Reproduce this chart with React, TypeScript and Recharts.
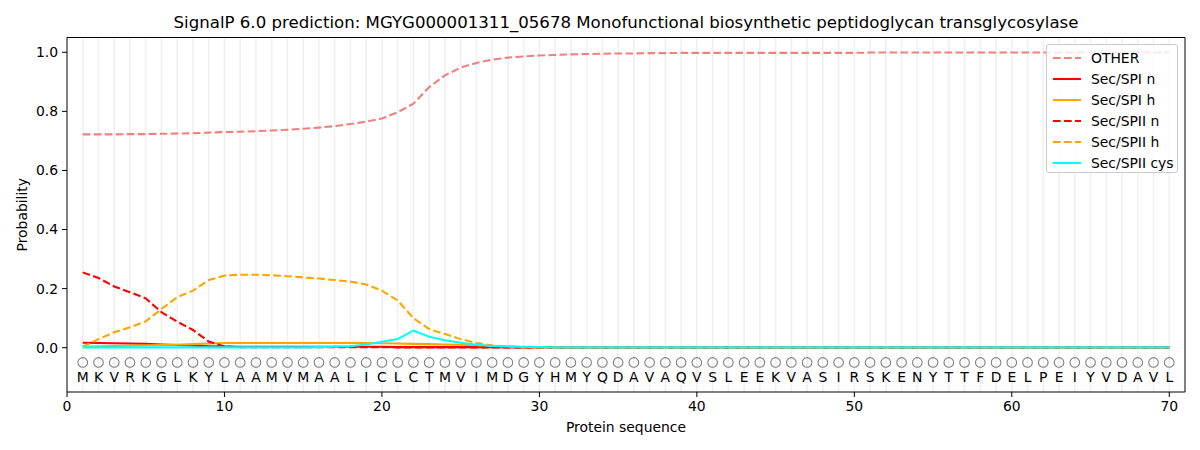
import React from 'react';
import { ComposedChart, Line, XAxis, YAxis, ReferenceLine, Legend } from 'recharts';

const FONT = '"DejaVu Sans", sans-serif';

const chartTitle = 'SignalP 6.0 prediction: MGYG000001311_05678 Monofunctional biosynthetic peptidoglycan transglycosylase';

const sequence = [
  'M','K','V','R','K','G','L','K','Y','L','A','A','M','V','M','A','A','L','I','C',
  'L','C','T','M','V','I','M','D','G','Y','H','M','Y','Q','D','A','V','A','Q','V',
  'S','L','E','E','K','V','A','S','I','R','S','K','E','N','Y','T','T','F','D','E',
  'L','P','E','I','Y','V','D','A','V','L',
];

const xTicks = [0, 10, 20, 30, 40, 50, 60, 70];
const yTicks = [0, 0.2, 0.4, 0.6, 0.8, 1.0];

const otherVals = [
  0.722, 0.722, 0.722, 0.723, 0.723, 0.724, 0.725, 0.726, 0.728, 0.730,
  0.731, 0.733, 0.735, 0.738, 0.741, 0.745, 0.750, 0.757, 0.765, 0.776,
  0.797, 0.826, 0.882, 0.922, 0.948, 0.964, 0.975, 0.982, 0.986, 0.989,
  0.991, 0.993, 0.994, 0.995, 0.996, 0.996, 0.997, 0.997, 0.998, 0.998,
  0.998, 0.998, 0.998, 0.998, 0.998, 0.998, 0.998, 0.998, 0.998, 0.998,
  0.999, 0.999, 0.999, 0.999, 0.999, 0.999, 0.999, 0.999, 0.999, 0.999,
  0.999, 0.999, 0.999, 0.999, 0.999, 0.999, 0.999, 0.999, 0.999, 0.999,
];

const spiNVals = [
  0.017, 0.016, 0.015, 0.014, 0.013, 0.011, 0.009, 0.007, 0.005, 0.004,
  0.003, 0.003, 0.003, 0.003, 0.003, 0.003, 0.003, 0.003, 0.003, 0.003,
  0.002, 0.002, 0.002, 0.002, 0.002, 0.002, 0.002, 0.001, 0.001, 0.001,
  0.001, 0.001, 0.001, 0.001, 0.001, 0.001, 0.001, 0.001, 0.001, 0.001,
  0.001, 0.001, 0.001, 0.001, 0.001, 0.001, 0.001, 0.001, 0.001, 0.001,
  0.001, 0.001, 0.001, 0.001, 0.001, 0.001, 0.001, 0.001, 0.001, 0.001,
  0.001, 0.001, 0.001, 0.001, 0.001, 0.001, 0.001, 0.001, 0.001, 0.001,
];

const spiHVals = [
  0.003, 0.005, 0.006, 0.007, 0.008, 0.009, 0.010, 0.012, 0.014, 0.016,
  0.016, 0.016, 0.016, 0.016, 0.016, 0.016, 0.016, 0.016, 0.016, 0.015,
  0.014, 0.013, 0.012, 0.011, 0.010, 0.008, 0.006, 0.004, 0.002, 0.001,
  0.001, 0.001, 0.001, 0.001, 0.001, 0.001, 0.001, 0.001, 0.001, 0.001,
  0.001, 0.001, 0.001, 0.001, 0.001, 0.001, 0.001, 0.001, 0.001, 0.001,
  0.001, 0.001, 0.001, 0.001, 0.001, 0.001, 0.001, 0.001, 0.001, 0.001,
  0.001, 0.001, 0.001, 0.001, 0.001, 0.001, 0.001, 0.001, 0.001, 0.001,
];

const spiiNVals = [
  0.255, 0.236, 0.207, 0.188, 0.167, 0.120, 0.088, 0.060, 0.021, 0.004,
  0.002, 0.002, 0.002, 0.002, 0.002, 0.002, 0.002, 0.002, 0.002, 0.002,
  0.001, 0.001, 0.001, 0.001, 0.001, 0.001, 0.001, 0.001, 0.001, 0.001,
  0.001, 0.001, 0.001, 0.001, 0.001, 0.001, 0.001, 0.001, 0.001, 0.001,
  0.001, 0.001, 0.001, 0.001, 0.001, 0.001, 0.001, 0.001, 0.001, 0.001,
  0.001, 0.001, 0.001, 0.001, 0.001, 0.001, 0.001, 0.001, 0.001, 0.001,
  0.001, 0.001, 0.001, 0.001, 0.001, 0.001, 0.001, 0.001, 0.001, 0.001,
];

const spiiHVals = [
  0.003, 0.029, 0.052, 0.069, 0.089, 0.131, 0.171, 0.193, 0.229, 0.244,
  0.247, 0.247, 0.245, 0.242, 0.238, 0.234, 0.229, 0.224, 0.214, 0.193,
  0.160, 0.100, 0.063, 0.046, 0.029, 0.016, 0.008, 0.004, 0.002, 0.002,
  0.001, 0.001, 0.001, 0.001, 0.001, 0.001, 0.001, 0.001, 0.001, 0.001,
  0.001, 0.001, 0.001, 0.001, 0.001, 0.001, 0.001, 0.001, 0.001, 0.001,
  0.001, 0.001, 0.001, 0.001, 0.001, 0.001, 0.001, 0.001, 0.001, 0.001,
  0.001, 0.001, 0.001, 0.001, 0.001, 0.001, 0.001, 0.001, 0.001, 0.001,
];

const cysVals = [
  0.001, 0.001, 0.001, 0.001, 0.001, 0.001, 0.001, 0.001, 0.001, 0.001,
  0.001, 0.001, 0.001, 0.001, 0.001, 0.002, 0.003, 0.005, 0.011, 0.020,
  0.029, 0.058, 0.037, 0.025, 0.017, 0.010, 0.006, 0.004, 0.003, 0.002,
  0.001, 0.001, 0.001, 0.001, 0.001, 0.001, 0.001, 0.001, 0.001, 0.001,
  0.001, 0.001, 0.001, 0.001, 0.001, 0.001, 0.001, 0.001, 0.001, 0.001,
  0.001, 0.001, 0.001, 0.001, 0.001, 0.001, 0.001, 0.001, 0.001, 0.001,
  0.001, 0.001, 0.001, 0.001, 0.001, 0.001, 0.001, 0.001, 0.001, 0.001,
];

const CIRCLE_Y = -0.05;
const LETTER_Y = -0.1;

const DASH = '7.7 3.3';
const LW = 2.08;

const seriesDefs = [
  { key: 'other', name: 'OTHER', color: '#f08080', dash: true },
  { key: 'spiN', name: 'Sec/SPI n', color: '#ff0000', dash: false },
  { key: 'spiH', name: 'Sec/SPI h', color: '#ffa500', dash: false },
  { key: 'spiiN', name: 'Sec/SPII n', color: '#ff0000', dash: true },
  { key: 'spiiH', name: 'Sec/SPII h', color: '#ffa500', dash: true },
  { key: 'cys', name: 'Sec/SPII cys', color: '#00ffff', dash: false },
];

const rows = sequence.map((letter, i) => ({
  pos: i + 1,
  letter,
  other: otherVals[i],
  spiN: spiNVals[i],
  spiH: spiHVals[i],
  spiiN: spiiNVals[i],
  spiiH: spiiHVals[i],
  cys: cysVals[i],
  circleY: CIRCLE_Y,
  letterY: LETTER_Y,
}));

const positions = rows.map((r) => r.pos);

const renderCircle = (props: any) => {
  const { cx, cy, index } = props;
  return <circle key={`c${index}`} cx={cx} cy={cy} r={4.8} fill="none" stroke="#808080" strokeWidth={1.1} />;
};

const renderLetter = (props: any) => {
  const { cx, cy, index, payload } = props;
  return (
    <text key={`l${index}`} x={cx} y={cy} textAnchor="middle" dominantBaseline="central"
      fontSize={13.9} fontFamily={FONT} fill="#000">
      {payload.letter}
    </text>
  );
};

const YLabel = (props: any) => {
  const vb = props.viewBox || { x: 0, y: 37.5, width: 67, height: 354.5 };
  const cy = vb.y + vb.height / 2;
  return (
    <text x={22} y={cy} transform={`rotate(-90, 22, ${cy})`} textAnchor="middle" dominantBaseline="central"
      fontSize={13.9} fontFamily={FONT} fill="#000">
      Probability
    </text>
  );
};

const XLabel = (props: any) => {
  const vb = props.viewBox || { x: 67, y: 392, width: 1118, height: 58 };
  const cx = vb.x + vb.width / 2;
  return (
    <text x={cx} y={427} textAnchor="middle" dominantBaseline="central"
      fontSize={13.9} fontFamily={FONT} fill="#000">
      Protein sequence
    </text>
  );
};

const LegendBox = () => (
  <div style={{
    position: 'relative', width: 132, height: 129, boxSizing: 'border-box',
    border: '1px solid #cccccc', borderRadius: 3, background: 'rgba(255,255,255,0.8)',
    fontFamily: FONT, fontSize: 13.9, color: '#000',
  }}>
    {seriesDefs.map((s, k) => (
      <div key={s.key} style={{ position: 'absolute', left: 0, top: 12.7 + 21 * k - 10, height: 20, width: 132 }}>
        <svg width={40} height={20} style={{ position: 'absolute', left: 0, top: 0 }}>
          <line x1={6} y1={10} x2={34} y2={10} stroke={s.color} strokeWidth={LW}
            strokeDasharray={s.dash ? DASH : undefined} />
        </svg>
        <span style={{ position: 'absolute', left: 44, top: 0, lineHeight: '20px', whiteSpace: 'nowrap' }}>{s.name}</span>
      </div>
    ))}
  </div>
);

export default function App() {
  return (
    <div style={{ position: 'absolute', left: 0, top: 0, width: 1200, height: 450, background: '#fff' }}>
      <div style={{
        position: 'absolute', left: 67, top: 13, width: 1118, textAlign: 'center',
        fontFamily: FONT, fontSize: 16.6, lineHeight: '20px', color: '#000', whiteSpace: 'nowrap',
      }}>
        {chartTitle}
      </div>
      <ComposedChart width={1200} height={450} data={rows}
        margin={{ top: 37.5, right: 15, bottom: 0, left: 0 }}>
        <XAxis type="number" dataKey="pos" domain={[0, 71]} ticks={xTicks} interval={0}
          allowDataOverflow height={58} tickSize={5} tickMargin={4}
          stroke="#000" tickLine={{ stroke: '#000' }}
          tick={{ fill: '#000', fontSize: 13.9, fontFamily: FONT }}
          label={<XLabel />} />
        <YAxis type="number" domain={[-0.15, 1.05]} ticks={yTicks} interval={0}
          allowDataOverflow width={67} tickSize={5} tickMargin={4}
          tickFormatter={(v: number) => v.toFixed(1)}
          stroke="#000" tickLine={{ stroke: '#000' }}
          tick={{ fill: '#000', fontSize: 13.9, fontFamily: FONT }}
          label={<YLabel />} />
        {positions.map((p) => (
          <ReferenceLine key={`g${p}`} x={p} stroke="#f0f0f0" strokeWidth={1.6} />
        ))}
        <ReferenceLine y={1.05} stroke="#000" strokeWidth={1} />
        <ReferenceLine x={71} stroke="#000" strokeWidth={1} />
        {seriesDefs.map((s) => (
          <Line key={s.key} type="linear" dataKey={s.key} name={s.name} stroke={s.color}
            strokeWidth={LW} strokeDasharray={s.dash ? DASH : undefined}
            dot={false} activeDot={false} isAnimationActive={false} />
        ))}
        <Line dataKey="circleY" stroke="none" dot={renderCircle} activeDot={false}
          isAnimationActive={false} legendType="none" />
        <Line dataKey="letterY" stroke="none" dot={renderLetter} activeDot={false}
          isAnimationActive={false} legendType="none" />
        <Legend layout="horizontal" verticalAlign="middle" align="center" content={<LegendBox />}
          wrapperStyle={{ position: 'absolute', left: 1046, top: 44, width: 132, height: 129 }} />
      </ComposedChart>
    </div>
  );
}
